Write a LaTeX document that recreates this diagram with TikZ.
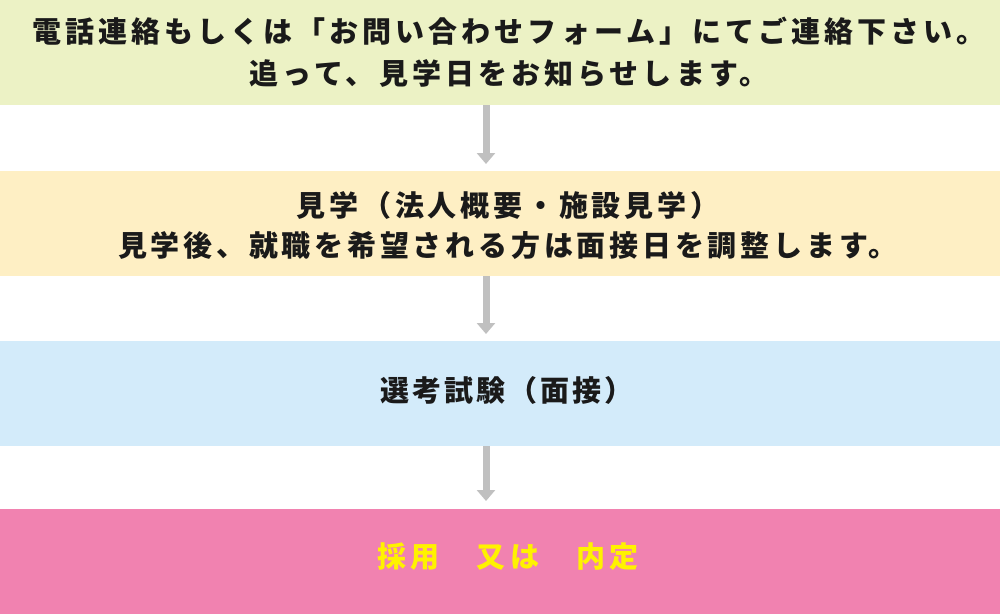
\documentclass[tikz,border=0pt]{standalone}
\usepackage{fontspec}
\usepackage{tikz}
\usetikzlibrary{arrows.meta,positioning}
\newfontfamily\jpwide[LetterSpace=14]{Noto Sans CJK JP}
\newfontfamily\jpmid[LetterSpace=13]{Noto Sans CJK JP}
\newfontfamily\jpnarrow[LetterSpace=10]{Noto Sans CJK JP}
\definecolor{bandgreen}{RGB}{236,242,197}
\definecolor{bandyellow}{RGB}{254,239,196}
\definecolor{bandblue}{RGB}{211,235,250}
\definecolor{bandpink}{RGB}{241,130,176}
\definecolor{arrowgray}{RGB}{192,192,192}
\definecolor{inkdark}{RGB}{26,26,26}

\begin{document}
\begin{tikzpicture}[x=1pt, y=-1pt,
  band/.style={draw=none, anchor=north, minimum width=1000pt, minimum height=105pt,
               inner sep=0pt},
  steptext/.style={inner sep=0pt, align=center, text=inkdark},
  flowarrow/.style={draw=arrowgray, line width=7pt,
                    -{Triangle[width=18pt, length=11pt]}}]

\useasboundingbox (0,0) rectangle (1000,614);

% the four bands
\node[band, fill=bandgreen] (apply) at (500,0) {};
\node[band, fill=bandyellow] (visit) at (500,171) {};
\node[band, fill=bandblue] (exam) at (500,341) {};
\node[band, fill=bandpink] (offer) at (500,509) {};

% their texts
\node[steptext, font=\jpwide\fontsize{29}{42}\selectfont\bfseries] (applytext)
  at ([xshift=9pt]apply.center)
  {電話連絡もしくは「お問い合わせフォーム」にてご連絡下さい。\\追って、見学日をお知らせします。};
\node[steptext, font=\jpmid\fontsize{29}{40}\selectfont\bfseries] (visittext)
  at ([xshift=8pt, yshift=-2pt]visit.center)
  {見学（法人概要・施設見学）\\見学後、就職を希望される方は面接日を調整します。};
\node[steptext, font=\jpnarrow\fontsize{29}{40}\selectfont\bfseries] (examtext)
  at ([xshift=7pt, yshift=3pt]exam.center)
  {選考試験（面接）};
\node[steptext, text=yellow, font=\jpwide\fontsize{29}{40}\selectfont\bfseries] (offertext)
  at ([xshift=8pt, yshift=5pt]offer.center)
  {採用　又は　内定};

% arrows between the steps
\draw[flowarrow] ([xshift=-14pt]apply.south) -- ([xshift=-14pt, yshift=7pt]visit.north);
\draw[flowarrow] ([xshift=-14pt]visit.south) -- ([xshift=-14pt, yshift=7pt]exam.north);
\draw[flowarrow] ([xshift=-14pt]exam.south) -- ([xshift=-14pt, yshift=8pt]offer.north);

\end{tikzpicture}
\end{document}
